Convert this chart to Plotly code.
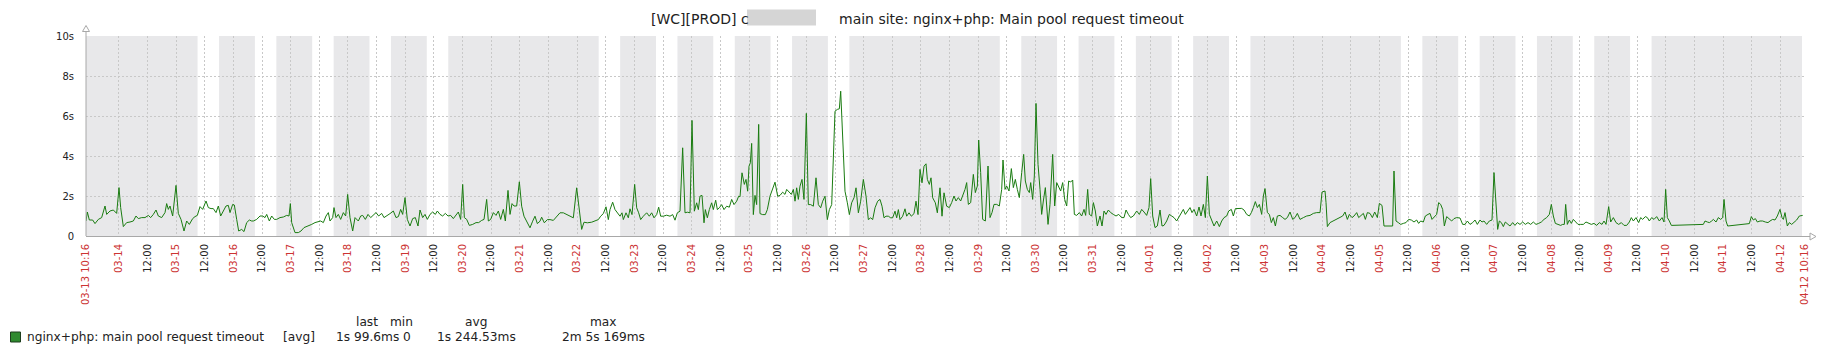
import pandas as pd
import plotly.graph_objects as go

# ---------------- data ----------------
START = pd.Timestamp("2021-03-13 10:16")
END = pd.Timestamp("2021-04-12 10:16")

# (hours since START, seconds)
seg1 = [(0.0,0.75),(0.56,1.2),(1.40,0.8),(2.79,0.8),(3.77,0.62),(5.17,0.83),(6.56,0.92),(7.96,1.5),(8.66,1.08),(10.05,1.25),
        (11.45,1.3),(12.84,1.13),(13.82,2.42),(14.52,1.42),(15.64,0.47),(17.03,0.67),(18.43,0.7),(19.83,0.75),(20.94,1.0),(21.92,0.87),
        (23.32,0.92),(24.71,0.92),(26.11,1.03),(27.09,0.92),(28.20,1.08),(29.32,1.3),(30.30,1.0),(31.69,0.92),(33.09,1.17),(33.79,1.62),
        (34.49,1.33),(35.18,1.5),(36.30,1.0),(37.70,2.53),(38.67,1.13),(39.79,0.83),(41.05,0.25),(42.17,0.75),(43.28,0.58),(44.68,0.87),
        (45.66,0.97),(46.63,1.03),(47.75,1.47),(48.87,1.33),(50.26,1.75),(51.24,1.42),(52.36,1.37),(53.33,1.37),(54.45,1.17),(55.43,1.5),
        (56.41,1.0),(57.52,1.25),(58.64,1.5),(59.62,1.53),(60.32,1.17),(61.43,1.58),(62.13,1.55),(63.11,0.83),(63.95,0.25),(65.20,0.33),
        (66.18,0.22),(67.30,0.67),(68.42,0.8),(69.39,0.75),(70.09,0.75),(71.49,0.83),(72.88,1.0),(74.00,1.0),(74.98,0.92),(75.68,1.08),
        (76.79,0.75),(77.77,1.0),(78.89,0.83),(79.86,0.83),(81.26,0.92),(82.66,0.95),(84.05,1.03),(85.03,1.0),(85.59,1.62),(86.15,0.67),
        (87.54,0.17),(88.94,0.17),(90.05,0.25),(91.31,0.42),(93.13,0.5),(94.52,0.58),(95.92,0.67),(97.32,0.7),(98.29,0.75),(99.41,0.67),
        (100.53,1.0),(101.50,1.17),(102.20,0.75),(103.32,0.92),(103.88,1.42),(104.71,0.92),(105.69,1.08),(106.67,0.83),(107.79,1.17),(108.76,1.0),
        (109.60,2.08),(110.58,0.92),(111.70,0.25),(112.67,0.92),(114.07,0.75),(115.05,1.0),(115.89,1.03),(117.00,0.83),(118.12,1.08),(119.24,0.92),
        (120.35,1.03),(121.47,1.17),(122.59,1.0),(123.84,1.13),(124.82,0.92),(125.94,1.0),(127.34,1.12),(128.73,1.25),(129.85,0.92),(130.83,0.97),
        (131.80,1.33),(132.64,1.08),(133.62,1.92),(134.59,0.83),(135.71,0.5),(136.83,0.87),(137.94,0.92),(139.06,0.5),(139.90,1.3),(141.02,0.92),
        (141.99,1.08),(142.97,0.83),(144.09,1.08),(145.20,1.2),(146.32,1.08),(147.16,1.25),(148.28,1.08),(149.39,1.0),(150.51,1.13),(151.63,1.0),
        (152.74,1.03),(153.86,0.87),(154.98,1.08),(155.95,1.2),(156.93,0.83),(157.77,2.58),(158.47,0.92),(159.45,0.83),(160.56,0.53),(161.96,0.58),
        (163.36,0.67),(164.47,0.67),(165.73,0.78),(166.71,0.83),(167.82,1.83),(168.52,0.75),(169.50,0.83),(170.62,1.17),(171.73,1.03),(172.71,1.25),
        (173.69,0.83),(174.80,1.33),(175.64,0.75),(176.76,2.28),(177.60,1.08),(178.44,1.62),(179.27,1.5),(180.39,1.5)]

seg2 = [(181.50,2.71),(182.48,1.49),(183.45,0.99),(184.57,0.74),(185.97,0.41),(187.08,0.74),(188.06,0.99),(189.04,0.62),(190.16,0.74),(190.85,0.94),
        (191.97,0.66),(193.23,0.82),(194.34,0.82),(195.74,0.78),(197.14,0.99),(198.53,1.16),(199.93,1.16),(201.33,1.07),(202.72,0.99),(204.12,0.91),
        (205.51,2.41),(206.49,1.32),(207.61,0.33),(208.59,0.69),(209.98,0.66),(211.80,0.69),(213.19,0.74),(214.59,0.82),(215.57,0.99),(216.68,1.12),
        (217.80,1.46),(218.78,0.82),(219.48,1.32),(220.59,1.69),(221.57,1.32),(222.55,1.16),(223.66,0.99),(224.50,1.16),(225.06,0.82),(226.18,1.16),
        (227.16,0.91),(227.85,1.36),(228.69,1.07),(229.81,2.58),(230.65,1.41),(231.48,1.16),(232.32,0.82),(233.44,0.99),(234.83,1.16),(235.95,0.99),
        (236.93,1.16),(237.91,0.91),(239.02,1.07),(239.86,1.44),(240.70,0.99),(241.82,0.99),(243.21,1.04),(244.61,0.99),(245.72,1.07),(246.70,0.79),
        (247.68,1.16),(248.80,1.24),(249.91,4.41),(250.89,1.16),(251.87,1.19),(252.99,1.16),(253.82,5.78),(254.80,1.24),(255.78,1.66),(256.48,1.32),
        (257.17,1.99),(258.01,2.03),(258.85,0.66),(259.41,1.32),(260.25,0.91),(261.08,1.32),(262.06,1.66),(262.76,1.32),(263.74,1.79),(264.44,1.32),
        (265.27,1.41),(266.25,1.57),(267.23,1.32),(268.34,1.49),(269.46,1.44),(270.44,1.83),(271.42,1.57),(272.53,1.74),(273.37,1.99),(273.93,1.96),
        (274.77,3.16),(275.74,2.58),(276.44,2.83),(277.14,2.24),(277.70,3.49),(278.26,3.66),(278.81,4.63),(279.51,1.07),(280.21,2.03),(280.91,1.57),
        (281.75,5.58),(282.30,1.12),(283.42,1.07),(284.54,1.07),(285.38,1.32),(286.49,1.99),(287.61,2.41),(288.59,2.69),(289.71,1.99),(290.68,2.03),
        (291.80,2.19),(292.78,2.08),(293.48,2.33),(294.59,2.16),(295.43,2.08),(296.27,2.33),(296.97,1.74),(297.66,2.41),(298.36,1.83),(299.06,2.49),
        (299.90,2.83),(300.73,1.83),(301.71,6.13),(302.55,1.57),(303.53,1.57),(304.65,1.49),(305.76,2.91),(306.74,1.57),(307.72,1.41),(308.56,1.74),
        (309.53,1.99),(310.51,0.82),(311.35,1.32),(312.33,1.57),(313.02,3.99),(313.72,6.24),(314.70,6.33),(315.54,6.36),(316.10,7.24),(316.93,4.99),
        (317.91,2.24),(318.89,1.66),(319.73,1.07),(320.70,1.66),(321.68,1.91),(322.52,2.41),(323.50,1.16),(324.47,1.74),(325.59,2.83),(326.71,1.99),
        (327.68,0.82),(328.66,0.91),(329.50,0.82),(330.48,1.41),(331.59,1.74),(332.57,1.83),(333.41,1.49),(334.25,0.91),(335.08,0.99),(336.06,0.99),
        (337.04,0.91),(337.87,0.91),(338.85,1.24),(339.55,0.91),(340.25,1.32),(340.95,0.82),(342.06,0.99),(343.04,1.36),(343.74,0.99),(344.72,1.16),
        (345.69,0.99),(346.81,1.12),(347.65,1.74),(348.49,1.07),(349.32,3.33),(350.16,2.66),(351.00,3.49),(351.84,3.61),(352.40,2.83),(353.23,2.58),
        (353.93,2.91),(354.63,1.91),(355.75,1.66),(356.58,1.16),(357.70,2.41),(358.54,0.99),(359.38,2.16),(360.49,1.49)]

seg3 = [(361.61,1.42),(362.59,1.67),(363.56,2.0),(364.40,1.75),(365.38,1.92),(366.36,1.75),(367.19,2.0),(368.17,2.33),(368.87,2.67),(369.57,1.58),
        (370.55,1.67),(371.66,3.08),(372.50,2.17),(373.34,2.5),(373.90,4.8),(374.73,3.17),(375.57,0.83),(376.69,0.75),(377.81,3.5),(378.64,0.92),
        (379.48,1.17),(380.32,1.58),(381.44,1.58),(382.55,1.5),(383.53,2.33),(384.09,3.8),(384.93,2.33),(385.62,2.5),(386.60,2.25),(387.58,3.37),
        (388.42,2.42),(389.25,2.83),(390.09,2.33),(390.93,1.92),(391.91,3.17),(392.74,4.08),(393.44,2.75),(394.28,2.33),(395.12,2.17),(395.68,2.67),
        (396.51,1.83),(397.21,3.0),(397.91,6.63),(398.75,3.58),(399.59,2.33),(400.28,1.08),(400.98,1.75),(401.82,2.42),(402.94,0.58),(403.77,1.58),
        (404.89,4.08),(405.73,1.5),(406.57,2.67),(407.54,2.42),(408.24,2.25),(409.08,2.67),(409.92,1.83),(410.76,1.5),(411.59,2.75),(412.43,2.7),
        (413.27,2.8),(413.97,1.08),(414.94,1.03),(416.06,1.17),(417.04,1.0),(418.02,1.33),(418.71,1.03),(419.55,2.33),(420.25,1.08),(421.23,1.0),
        (421.93,1.67),(422.76,1.25),(423.60,0.5),(424.72,1.0),(425.56,0.5),(426.39,1.25),(427.23,1.08),(428.21,1.3),(429.19,1.17),(430.30,1.08),
        (431.42,1.0),(432.54,1.08),(433.79,0.92),(434.77,0.92),(435.61,1.3),(436.59,1.08),(437.56,0.92),(438.68,1.0),(440.08,1.25),(441.19,1.08),
        (442.17,1.33),(443.15,1.2),(444.26,1.03),(445.24,1.42),(445.94,2.87),(446.78,1.0),(447.76,0.42),(448.73,0.5),(449.85,1.3),(450.69,0.5),
        (451.53,0.53),(452.64,0.75),(453.76,1.08),(454.74,1.0),(455.71,0.92),(456.83,0.75),(457.67,0.92),(458.51,1.08),(459.62,1.33),(460.46,1.08),
        (461.30,1.25),(462.42,1.42),(463.25,1.17),(464.09,1.33),(465.21,1.0),(466.19,1.45),(467.02,1.0),(468.00,1.58),(468.84,0.92),(469.68,3.0),
        (470.52,1.08),(471.49,0.83),(472.47,0.5),(473.59,0.75),(474.71,0.47),(475.68,0.75),(476.66,0.92),(477.78,1.0),(478.61,1.25),(479.73,1.33),
        (480.57,1.0),(481.41,1.37),(482.66,1.38),(484.06,1.38),(485.04,1.3),(486.15,1.08),(487.27,1.0),(488.11,1.17),(488.95,1.42),(489.78,1.72),
        (490.62,1.42),(491.46,1.58),(492.44,1.08),(493.13,2.0),(493.83,2.37),(494.81,1.17),(495.65,1.08),(496.48,0.67),(497.32,0.92),(498.16,0.5),
        (499.00,1.0),(500.11,1.03),(501.23,0.92),(502.21,0.83),(503.18,0.92),(504.30,1.2),(505.42,0.83),(506.40,0.92),(507.37,1.13),(508.49,0.83),
        (509.89,0.92),(511.28,1.0),(512.68,1.03),(514.08,1.13),(515.47,1.17),(516.87,1.17),(517.71,2.2),(518.96,2.25),(519.38,1.67),(519.94,0.47),
        (521.06,0.67),(522.45,0.75),(523.85,0.83),(525.24,0.92),(526.36,1.0),(527.34,1.2),(528.32,0.83),(529.15,1.08),(530.27,0.92),(531.11,1.0),
        (532.23,1.17),(533.06,0.92),(533.90,1.03),(535.02,1.13),(535.86,0.83),(536.70,1.17),(537.81,1.13),(538.79,0.92),(539.77,1.2),(540.88,0.92),
        (541.72,1.63)]

seg4 = [(542.83,1.53),(543.66,0.5),(544.78,0.5),(546.18,0.5),(547.29,0.5),(547.85,3.25),(548.69,0.75),(549.67,0.67),(550.65,0.58),(551.76,0.63),
        (552.88,0.67),(553.99,0.83),(555.11,0.8),(556.23,0.7),(557.35,0.8),(558.18,0.63),(559.02,0.75),(560.14,0.7),(560.98,1.0),(562.09,1.08),
        (562.93,1.13),(563.77,0.83),(564.61,0.92),(565.72,1.08),(566.56,1.67),(567.40,1.58),(568.24,1.33),(568.94,0.5),(569.91,0.97),(571.03,0.83),
        (572.01,0.75),(572.98,0.87),(574.10,0.92),(575.50,0.9),(576.61,0.58),(577.59,0.58),(578.57,0.75),(579.69,0.58),(580.80,0.67),(581.78,0.8),
        (582.76,0.58),(583.87,0.8),(584.71,0.7),(585.55,0.75),(586.67,0.58),(587.78,0.75),(588.90,0.8),(589.74,3.17),(590.58,1.58),(591.27,0.33),
        (591.97,0.75),(592.81,0.67),(593.65,0.47),(594.49,0.7),(595.60,0.58),(596.44,0.5),(597.56,0.67),(598.53,0.53),(599.51,0.67),(600.63,0.58),
        (601.75,0.7),(602.86,0.58),(603.98,0.67),(605.10,0.58),(606.21,0.7),(607.33,0.58),(608.45,0.63),(609.57,0.7),(610.68,0.83),(611.80,0.92),
        (612.92,1.08),(613.75,1.58),(614.59,1.0),(615.43,0.63),(616.55,0.58),(617.66,0.53),(618.50,0.58),(619.20,0.58),(619.76,1.58),(620.45,0.58),
        (621.29,0.8),(622.13,0.63),(622.97,0.83),(624.08,0.67),(624.92,0.58),(626.04,0.58),(627.16,0.58),(628.27,0.7),(629.39,0.63),(630.51,0.58),
        (631.62,0.63),(632.74,0.53),(633.86,0.67),(634.98,0.58),(635.81,0.75),(636.65,0.58),(637.77,1.47),(638.61,0.7),(639.72,0.92),(640.84,0.67),
        (641.96,0.58),(643.07,0.67),(644.19,0.53),(645.31,0.53),(646.43,0.7),(647.26,0.92),(648.10,0.75),(649.22,0.92),(650.33,0.67),(651.17,0.92),
        (652.01,0.83),(653.13,0.97),(653.96,0.92),(654.80,0.75),(655.78,0.92),(656.76,0.83),(657.87,0.97),(658.99,0.75),(660.11,0.92),(660.94,0.7),
        (661.64,2.33),(662.34,0.92),(663.18,0.75),(664.02,0.53),(677.42,0.58),(678.12,0.75),(679.10,0.7),(679.94,0.67),(680.91,0.75),(681.61,0.83),
        (682.73,0.7),(683.70,0.92),(684.68,0.83),(685.52,0.92),(686.08,1.83),(686.91,0.75),(687.61,0.5),(696.69,0.62),(697.52,0.97),(698.36,0.8),
        (699.20,0.87),(700.04,0.7),(701.15,0.75),(702.27,0.75),(703.39,0.7),(704.50,0.67),(705.34,0.75),(706.46,0.83),(707.44,0.8),(708.41,1.0),
        (709.53,1.33),(710.37,0.92),(710.93,0.83),(711.62,1.17),(712.60,0.5),(713.44,0.67),(714.42,0.58),(715.40,0.7),(716.51,0.8),(717.63,1.0),
        (718.47,1.03),(719.03,1.03)]

y_tick_values = [0, 2, 4, 6, 8, 10]
y_tick_labels = ["0", "2s", "4s", "6s", "8s", "10s"]

title_left = "[WC][PROD] c"
title_right = "main site: nginx+php: Main pool request timeout"
legend_item = "nginx+php: main pool request timeout"
legend_func = "[avg]"
legend_headers = ["last", "min", "avg", "max"]
legend_values = ["1s 99.6ms", "0", "1s 244.53ms", "2m 5s 169ms"]

# ---------------- styling ----------------
W, H = 1835, 355
L, R, T, B = 86, 1805, 36, 236
FONT = "DejaVu Sans"
LINE_COLOR = "#1A7C11"
RED = "#cc3333"
GRID = "#c8c8c8"
AXIS = "#a8a8a8"
SHADE = "#e8e8ea"

def px(x):
    return (x - L) / (R - L)

def py(y):
    return (B - y) / (B - T)

points = seg1 + seg2 + seg3 + seg4
times = [START + pd.Timedelta(hours=h) for h, _ in points]
values = [v for _, v in points]

fig = go.Figure()
fig.add_trace(go.Scatter(x=times, y=values, mode="lines",
                         line=dict(color=LINE_COLOR, width=1), hoverinfo="skip"))

# x ticks every 12 h
def red(s):
    return f'<span style="color:{RED}">{s}</span>'

tickvals = [START]
ticktext = [red(START.strftime("%m-%d %H:%M"))]
t = START.normalize() + pd.Timedelta(days=1)
while t < END:
    tickvals.append(t)
    ticktext.append(red(t.strftime("%m-%d")) if t.hour == 0 else t.strftime("%H:%M"))
    t += pd.Timedelta(hours=12)
tickvals.append(END)
ticktext.append(red(END.strftime("%m-%d %H:%M")))

shapes = []
# non-working-time shading (everything gray, working hours white)
shapes.append(dict(type="rect", xref="x", yref="paper", x0=START, x1=END, y0=0, y1=1,
                   fillcolor=SHADE, line=dict(width=0), layer="below"))
d = START.normalize()
while d <= END:
    if d.weekday() < 5:
        a = max(d + pd.Timedelta(hours=9), START)
        b = min(d + pd.Timedelta(hours=18), END)
        if b > a:
            shapes.append(dict(type="rect", xref="x", yref="paper", x0=a, x1=b, y0=0, y1=1,
                               fillcolor="white", line=dict(width=0), layer="below"))
    d += pd.Timedelta(days=1)

# axis extensions and arrows
shapes.append(dict(type="line", xref="paper", yref="paper", x0=px(L), x1=px(L), y0=py(B), y1=py(31),
                   line=dict(color=AXIS, width=1)))
shapes.append(dict(type="line", xref="paper", yref="paper", x0=px(L), x1=px(1810), y0=py(B + 0.5), y1=py(B + 0.5),
                   line=dict(color=AXIS, width=1)))
shapes.append(dict(type="path", xref="paper", yref="paper",
                   path=f"M {px(L)},{py(25.5)} L {px(L-3.5)},{py(31.5)} L {px(L+3.5)},{py(31.5)} Z",
                   fillcolor="white", line=dict(color=AXIS, width=1)))
shapes.append(dict(type="path", xref="paper", yref="paper",
                   path=f"M {px(1816)},{py(B+0.5)} L {px(1810)},{py(B-3)} L {px(1810)},{py(B+4)} Z",
                   fillcolor="white", line=dict(color=AXIS, width=1)))
# redaction box in title
shapes.append(dict(type="rect", xref="paper", yref="paper", x0=px(747), x1=px(816), y0=py(25.5), y1=py(9.5),
                   fillcolor="#d5d5d5", line=dict(width=0)))
# legend colour box
shapes.append(dict(type="rect", xref="paper", yref="paper", x0=px(10.5), x1=px(20.5), y0=py(342), y1=py(332),
                   fillcolor="#2f8a2f", line=dict(color="#1d3d1d", width=1)))

ann = []
def text(s, x, y, anchor="left", size=12, color="#222"):
    ann.append(dict(text=s, x=px(x), y=py(y), xref="paper", yref="paper", showarrow=False,
                    xanchor=anchor, yanchor="middle", font=dict(family=FONT, size=size, color=color),
                    borderpad=0))

text(title_left, 650, 18.5, size=14)
text(title_right, 838, 18.5, size=14)
text(legend_item, 26, 337, size=12.2)
text(legend_func, 282, 337, size=12.2)
header_centers = [366.5, 401, 476, 603]
value_centers = [367.5, 407, 476, 603]
for hdr, val, hc, vc in zip(legend_headers, legend_values, header_centers, value_centers):
    text(hdr, hc, 322, anchor="center", size=12.2)
    text(val, vc, 337, anchor="center", size=12.2)

fig.update_layout(
    width=W, height=H,
    margin=dict(l=L, r=W - R, t=T, b=H - B, pad=0),
    paper_bgcolor="white", plot_bgcolor="white",
    showlegend=False,
    shapes=shapes, annotations=ann,
    font=dict(family=FONT, color="#222"),
)
fig.update_xaxes(type="date", range=[START, END], tickmode="array", tickvals=tickvals, ticktext=ticktext,
                 tickangle=-90, tickfont=dict(family=FONT, size=10, color="#222"),
                 showgrid=True, gridcolor=GRID, griddash="2px,2px", gridwidth=1,
                 showline=False, zeroline=False, ticks="", ticklabelstandoff=5, fixedrange=True)
fig.update_yaxes(range=[0, 10], tickmode="array", tickvals=y_tick_values, ticktext=y_tick_labels,
                 tickfont=dict(family=FONT, size=10, color="#222"),
                 showgrid=True, gridcolor=GRID, griddash="2px,2px", gridwidth=1,
                 showline=False, zeroline=False, ticks="", ticklabelstandoff=11, fixedrange=True)

fig.write_html("out.html")
